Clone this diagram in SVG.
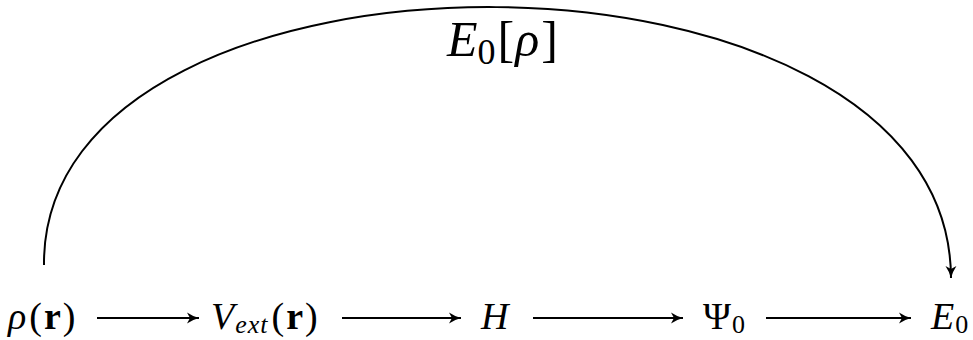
<svg xmlns="http://www.w3.org/2000/svg" width="973" height="340" viewBox="0 0 973 340">
<style>
.t{font-family:"Liberation Serif","DejaVu Serif",serif;font-size:38px;fill:#000}
.i{font-style:italic}
.b{font-weight:bold}
.s{font-size:26px}
.c{stroke:#000;stroke-width:2;fill:none}
</style>
<defs>
<marker id="ah" markerWidth="14" markerHeight="12" refX="12" refY="6" orient="auto" markerUnits="userSpaceOnUse">
<path d="M0,0.5 Q6,4.5 12,6 Q6,7.5 0,11.5 L3,6 Z" fill="#000"/>
</marker>
</defs>
<rect width="973" height="340" fill="#fff"/>
<g id="connectors">
<path class="c" d="M97,318 H199" marker-end="url(#ah)"/>
<path class="c" d="M342,318 H461" marker-end="url(#ah)"/>
<path class="c" d="M533,318 H683" marker-end="url(#ah)"/>
<path class="c" d="M766,318 H911" marker-end="url(#ah)"/>
<path class="c" d="M44,265 C41,-82 950,-80 951,278" marker-end="url(#ah)"/>
</g>
<g id="label-E0rho"><text class="t" x="447" y="56" style="font-size:50px"><tspan class="i">E</tspan><tspan style="font-size:36px" dy="8">0</tspan><tspan dy="-8" dx="2">[</tspan><tspan class="i" dx="1">ρ</tspan><tspan dx="2">]</tspan></text></g>
<g id="node-rho"><text class="t" x="8" y="329"><tspan class="i">ρ</tspan><tspan dx="3">(</tspan><tspan class="b" dx="2">r</tspan><tspan dx="2">)</tspan></text></g>
<g id="node-vext"><text class="t" x="211" y="329"><tspan class="i">V</tspan><tspan class="i s" dy="4" dx="1" style="letter-spacing:1px">ext</tspan><tspan dy="-4" dx="3">(</tspan><tspan class="b" dx="2">r</tspan><tspan dx="2">)</tspan></text></g>
<g id="node-H"><text class="t i" x="481" y="329">H</text></g>
<g id="node-psi"><text class="t" x="703" y="329">Ψ<tspan class="s" dy="4" dx="1">0</tspan></text></g>
<g id="node-E0"><text class="t" x="931" y="329"><tspan class="i">E</tspan><tspan class="s" dy="4" dx="1">0</tspan></text></g>
</svg>
